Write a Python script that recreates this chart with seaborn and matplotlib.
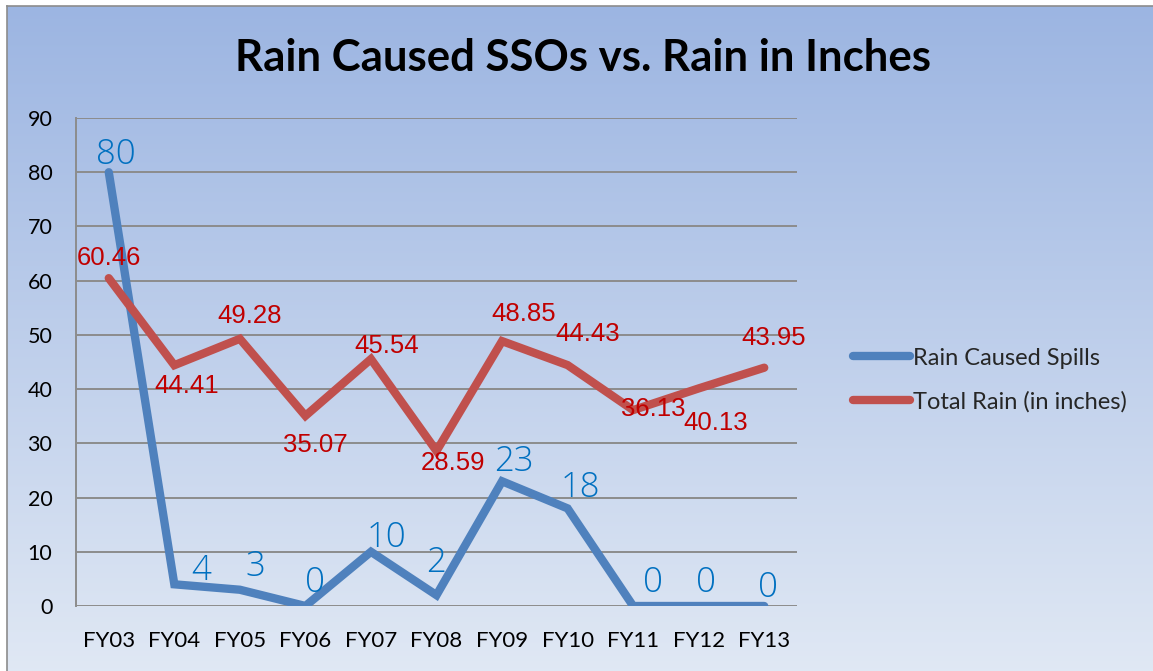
import numpy as np
import pandas as pd
import matplotlib
matplotlib.use("Agg")
import matplotlib.pyplot as plt
import seaborn as sns
from matplotlib.lines import Line2D

years = ["FY03", "FY04", "FY05", "FY06", "FY07", "FY08", "FY09", "FY10", "FY11", "FY12", "FY13"]
spills = [80, 4, 3, 0, 10, 2, 23, 18, 0, 0, 0]
rain = [60.46, 44.41, 49.28, 35.07, 45.54, 28.59, 48.85, 44.43, 36.13, 40.13, 43.95]
series_names = ["Rain Caused Spills", "Total Rain (in inches)"]
yticks = [0, 10, 20, 30, 40, 50, 60, 70, 80, 90]
title = "Rain Caused SSOs vs. Rain in Inches"

# label offsets in pixels (style only)
spill_off = [(7, 17), (27, 14), (16, 23), (10, 23), (16, 14), (-1, 32), (12, 20), (13, 21), (20, 23), (7, 23), (4, 18)]
rain_off = [(0, 20), (12, -21), (10, 23), (10, -29), (16, 13), (17, -12), (22, 27), (20, 31), (20, 1), (17, -35), (9, 30)]

sns.set_theme(style="white")
plt.rcParams['font.family'] = ['Lato', 'DejaVu Sans']

W, H = 1153, 671
fig = plt.figure(figsize=(W / 100, H / 100), dpi=100)
fig.patch.set_facecolor("white")

# gradient background
bg = fig.add_axes([7 / W, 0, 1 - 7 / W, 1 - 6 / H], zorder=0)
top = np.array([0.612, 0.710, 0.886])
bot = np.array([0.878, 0.910, 0.957])
t = np.linspace(0, 1, 256)[:, None]
grad = top[None, :] * (1 - t) + bot[None, :] * t
bg.imshow(grad[:, None, :].repeat(2, axis=1), aspect="auto", extent=[0, 1, 0, 1])
bg.set_xlim(0, 1); bg.set_ylim(0, 1)
bg.set_xticks([]); bg.set_yticks([])
for s in ["right", "bottom"]:
    bg.spines[s].set_visible(False)
for s in ["left", "top"]:
    bg.spines[s].set_color("#8c8c8c")
    bg.spines[s].set_linewidth(1.2)

ax = fig.add_axes([76 / W, 1 - 606 / H, (797 - 76) / W, (606 - 118) / H], zorder=1)
ax.patch.set_alpha(0)

df = pd.DataFrame({
    "x": list(range(len(years))) * 2,
    "value": spills + rain,
    "series": [series_names[0]] * len(years) + [series_names[1]] * len(years),
})
palette = {series_names[0]: "#4f81bd", series_names[1]: "#c0504d"}
sns.lineplot(data=df, x="x", y="value", hue="series", palette=palette, ax=ax,
             linewidth=6, legend=False, solid_capstyle="round", solid_joinstyle="miter", zorder=3)

ax.set_xlim(-0.5, len(years) - 0.5)
ax.set_ylim(0, 90)
ax.set_yticks(yticks)
ax.set_xticks(range(len(years)))
ax.set_xticklabels(years)
ax.set_xlabel(""); ax.set_ylabel("")
ax.grid(axis="y", color="#8c8c8c", linewidth=1.4)
ax.grid(axis="x", visible=False)
ax.set_axisbelow(True)
for s in ["top", "right", "bottom"]:
    ax.spines[s].set_visible(False)
ax.spines["left"].set_color("#8c8c8c")
ax.spines["left"].set_linewidth(1.4)
ax.tick_params(axis="y", length=0, pad=17, labelsize=15.5, labelcolor="black")
ax.tick_params(axis="x", length=0, pad=18, labelsize=16, labelcolor="black")

for i, v in enumerate(spills):
    dx, dy = spill_off[i]
    ax.annotate(f"{v}", (i, v), xytext=(dx * 0.72, dy * 0.72), textcoords="offset points",
                ha="center", va="center", color="#0070c0", fontsize=25, zorder=4,
                family=["Open Sans", "DejaVu Sans"], fontweight="light")
for i, v in enumerate(rain):
    dx, dy = rain_off[i]
    ax.annotate(f"{v:.2f}", (i, v), xytext=(dx * 0.72, dy * 0.72), textcoords="offset points",
                ha="center", va="center", color="#c00000", fontsize=18.5, zorder=4,
                family=["Liberation Sans"])

fig.text(583 / W, 1 - 58 / H, title, ha="center", va="center", fontsize=31.5,
         fontweight="bold", color="black")

# legend
handles = [Line2D([0], [0], color=palette[n], linewidth=6, solid_capstyle="round") for n in series_names]
leg = fig.legend(handles, series_names, loc="center left", bbox_to_anchor=(832 / W, 1 - 380 / H),
                 frameon=False, fontsize=17, handlelength=2.4, handletextpad=0.15, labelspacing=0.95)

fig.savefig("out.png", dpi=100)
